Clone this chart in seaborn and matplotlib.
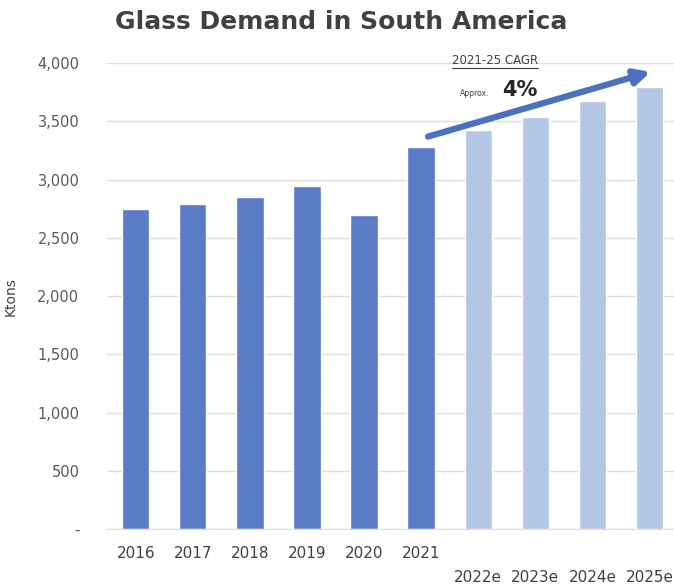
import matplotlib
matplotlib.use("Agg")
import matplotlib.pyplot as plt
import seaborn as sns
import pandas as pd
from matplotlib.lines import Line2D
from matplotlib.ticker import FuncFormatter

sns.set_style("white")
plt.rcParams["font.family"] = ["DejaVu Sans"]

# data
years = ["2016", "2017", "2018", "2019", "2020", "2021",
         "2022e", "2023e", "2024e", "2025e"]
demand = [2750, 2795, 2855, 2945, 2695, 3280, 3425, 3540, 3675, 3795]
is_forecast = [False] * 6 + [True] * 4

dark_blue = "#5a7cc6"
light_blue = "#b4c6e6"
bar_colors = [light_blue if f else dark_blue for f in is_forecast]

df = pd.DataFrame({"Year": years, "Ktons": demand})

fig = plt.figure(figsize=(6.74, 5.88), dpi=100)
ax = fig.add_axes([0.159, 0.100, 0.847, 0.7925])

sns.barplot(data=df, x="Year", y="Ktons", hue="Year", palette=bar_colors,
            legend=False, width=0.48, ax=ax, saturation=1)

ax.set_xlim(-0.5, 9.5)
ax.set_ylim(0, 4000)
ax.set_yticks(range(0, 4001, 500))
ax.yaxis.set_major_formatter(FuncFormatter(lambda v, p: "-" if v == 0 else f"{int(v):,}"))
ax.grid(axis="y", color="#dedede", linewidth=1)
ax.set_axisbelow(True)
for s in ["top", "right", "left"]:
    ax.spines[s].set_visible(False)
ax.spines["bottom"].set_color("#dedede")

# forecast labels sit on a second line as in the original
ax.set_xticks(range(len(years)))
ax.set_xticklabels([("\n" + y) if f else y for y, f in zip(years, is_forecast)],
                   fontsize=11, color="#404040", linespacing=1.8)
ax.tick_params(axis="x", length=0, pad=12)
ax.tick_params(axis="y", length=0, pad=20, labelsize=10.5, labelcolor="#595959")
ax.set_xlabel("")
ax.set_ylabel("Ktons", fontsize=10, color="#404040", labelpad=14)

fig.suptitle("Glass Demand in South America", fontsize=18, fontweight="bold",
             color="#404040", x=0.506, y=0.983)

# CAGR arrow and annotation
ax.annotate("", xy=(9.02, 3925), xytext=(5.12, 3370), annotation_clip=False,
            arrowprops=dict(arrowstyle="-|>,head_length=0.9,head_width=0.45",
                            color="#4a70c0", lw=4.5, shrinkA=0, shrinkB=0))
cagr = ax.text(6.3, 4025, "2021-25 CAGR", fontsize=8.5, color="#404040",
               ha="center", va="center", clip_on=False)
ax.text(5.94, 3740, "Approx.", fontsize=5.5, color="#404040",
        ha="center", va="center", clip_on=False)
ax.text(6.73, 3770, "4%", fontsize=15, fontweight="bold", color="#262626",
        ha="center", va="center", clip_on=False)

# underline the CAGR label
fig.canvas.draw()
bb = cagr.get_window_extent().transformed(fig.transFigure.inverted())
fig.add_artist(Line2D([bb.x0, bb.x1], [bb.y0 - 0.002, bb.y0 - 0.002],
                      transform=fig.transFigure, color="#404040", lw=0.8))

fig.savefig("out.png", dpi=100)
